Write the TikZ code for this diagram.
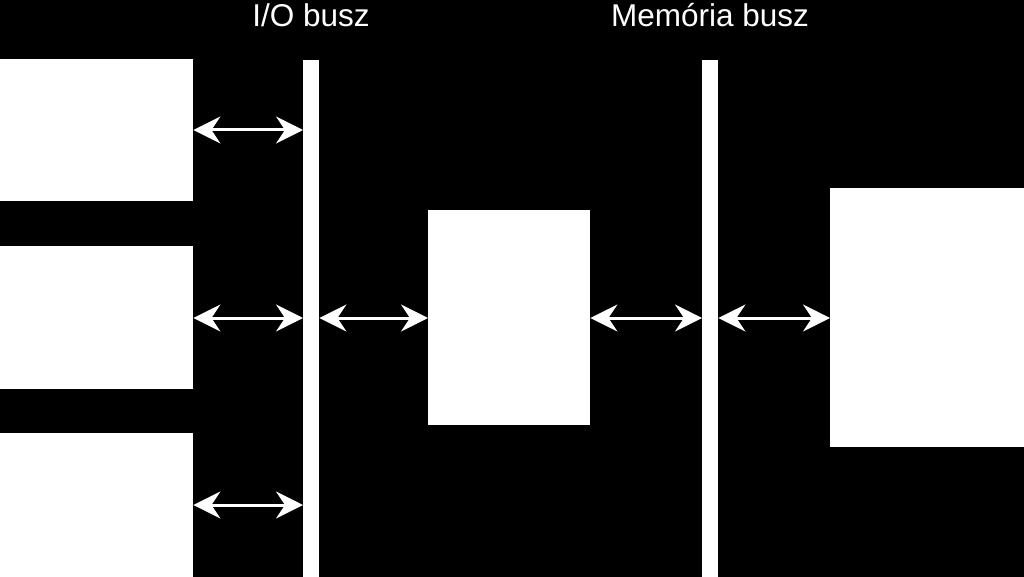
\documentclass[tikz,border=0pt]{standalone}
\usepackage{fontspec}
\setmainfont{Liberation Sans}
\usetikzlibrary{arrows.meta}
\begin{document}
\begin{tikzpicture}[x=1pt,y=-1pt,
  box/.style={fill=white,draw=none,inner sep=0pt,anchor=north west},
  bus/.style={fill=white,draw=none,inner sep=0pt,anchor=north west,minimum width=16pt,minimum height=517pt},
  link/.style={white,line width=3pt,arrows={Stealth[length=27pt,width=27pt,inset=9pt]-Stealth[length=27pt,width=27pt,inset=9pt]}},
  lbl/.style={text=white,font=\fontsize{31.5}{34}\selectfont,inner sep=0pt}]
\fill[black] (0,0) rectangle (1024,577);
\useasboundingbox (0,0) rectangle (1024,577);
% boxes
\node[box,minimum width=193pt,minimum height=142pt] (d1) at (0,59) {};
\node[box,minimum width=193pt,minimum height=143pt] (d2) at (0,246) {};
\node[box,minimum width=193pt,minimum height=144pt] (d3) at (0,433) {};
\node[box,minimum width=162pt,minimum height=215pt] (cpu) at (428,210) {};
\node[box,minimum width=194pt,minimum height=259pt] (mem) at (830,188) {};
% buses
\node[bus] (iob) at (303,60) {};
\node[bus] (mb) at (702,60) {};
% labels
\node[lbl] (iol) at (311,15) {I/O busz};
\node[lbl] (ml) at (710,15) {Memória busz};
% arrows
\coordinate (y1) at (0,130);
\coordinate (y2) at (0,318);
\coordinate (y3) at (0,505);
\draw[link] (d1.east |- y1) -- (iob.west |- y1);
\draw[link] (d2.east |- y2) -- (iob.west |- y2);
\draw[link] (d3.east |- y3) -- (iob.west |- y3);
\draw[link] (iob.east |- y2) -- (cpu.west |- y2);
\draw[link] (cpu.east |- y2) -- (mb.west |- y2);
\draw[link] (mb.east |- y2) -- (mem.west |- y2);
\end{tikzpicture}
\end{document}
